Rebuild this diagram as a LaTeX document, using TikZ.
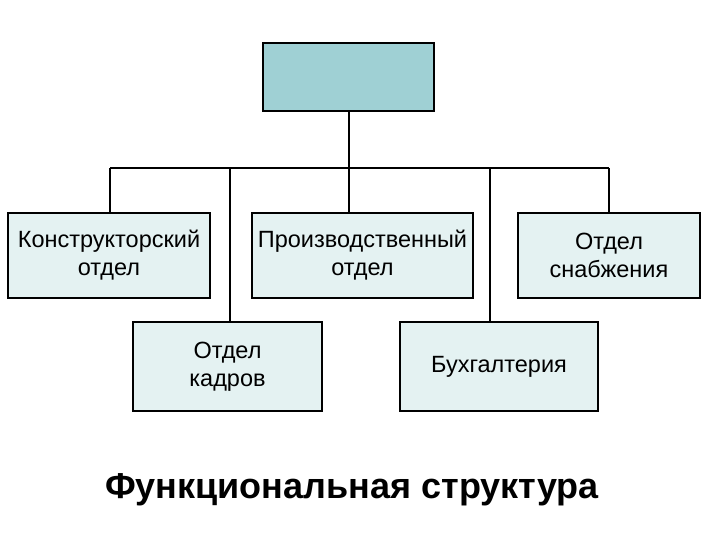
\documentclass[tikz,border=0pt]{standalone}
\usepackage{fontspec}
\setmainfont{Liberation Sans}
\definecolor{topc}{HTML}{9FD0D4}
\definecolor{boxc}{HTML}{E4F2F2}
\begin{document}
\begin{tikzpicture}[x=1pt,y=-1pt,
  bx/.style={draw,line width=2pt,fill=boxc,align=center,font=\fontsize{23.5}{28}\selectfont},
  ln/.style={line width=2pt}]
\useasboundingbox (0,0) rectangle (720,540);
\node[draw,line width=2pt,fill=topc,minimum width=171,minimum height=68,inner sep=0] (top) at (348.5,77) {};
\node[bx,minimum width=202,minimum height=85,inner sep=0] (b1) at (109,255.5) {Конструкторский\\отдел};
\node[bx,minimum width=221,minimum height=85,inner sep=0] (b2) at (362.5,255.5) {Производственный\\отдел};
\node[bx,minimum width=182,minimum height=85,inner sep=0] (b3) at (609,255.5) {Отдел\\снабжения};
\node[bx,minimum width=189,minimum height=89,inner sep=0] (b4) at (227.5,366.5) {Отдел\\кадров};
\node[bx,minimum width=198,minimum height=89,inner sep=0] (b5) at (499,366.5) {Бухгалтерия};
\node[font=\bfseries\fontsize{36}{40}\selectfont] (title) at (352,490) {Функциональная структура};
\coordinate (hl) at (110,168);
\coordinate (hr) at (609,168);
\coordinate (hm) at (349,168);
\draw[ln] (hl) -- (hr);
\draw[ln] (349,111) -- (349,213);
\draw[ln] (hl) -- (hl |- b1.north);
\draw[ln] (hr) -- (hr |- b3.north);
\draw[ln] (230,168) -- (230,322);
\draw[ln] (490,168) -- (490,322);
\end{tikzpicture}
\end{document}
